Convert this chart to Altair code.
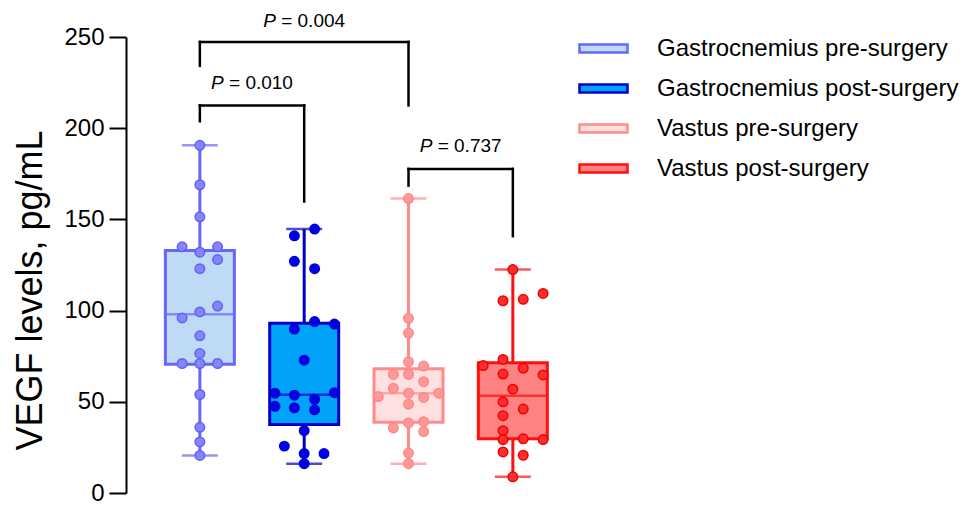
import altair as alt
import pandas as pd

FONT = "Liberation Sans, Arial, Helvetica, sans-serif"

groups = ["Gastrocnemius pre-surgery", "Gastrocnemius post-surgery",
          "Vastus pre-surgery", "Vastus post-surgery"]
group_pos = [1, 2, 3, 4]

# box fills / outlines / point colours
box_fill = ["#BFDAF5", "#00A2FA", "#FFE0E0", "#FF8282"]
box_stroke = ["#6666FF", "#0000C8", "#FF8C8C", "#FF1010"]
pt_fill = ["#8585FA", "#0000E6", "#FF9A9A", "#FF2E2E"]
pt_stroke = ["#6060F5", "#0000D0", "#FF8585", "#F00000"]

# box statistics (min, q1, median, q3, max)
st_min = [20.6, 16.1, 16.1, 8.9]
st_q1 = [70.6, 37.5, 38.8, 29.7]
st_med = [98.0, 53.8, 54.7, 53.3]
st_q3 = [133.0, 93.0, 68.1, 71.4]
st_max = [190.6, 144.7, 161.4, 122.5]

# individual values and their swarm offsets (in group units)
vals1 = [190.6, 169, 151.4, 135, 132, 135, 128, 123, 102.5, 99.3, 96, 86.2, 76.5,
         71, 71, 71, 54, 36, 28, 20.6]
offs1 = [0, 0, 0, -0.17, 0, 0.17, 0.17, 0, 0.17, 0, -0.17, 0, 0,
         -0.17, 0, 0.17, 0, 0, 0, 0]
vals2 = [144.7, 141, 127, 123, 94, 92.6, 89.9, 72.8, 54.7, 55, 53.6, 51.4, 47.5,
         46.7, 45.6, 34.2, 25.7, 21.6, 21.6, 16.1]
offs2 = [0.1, -0.094, -0.094, 0.1, 0.1, 0.29, -0.094, 0, -0.28, 0.29, -0.094, 0.1, -0.28,
         -0.094, 0.1, 0, -0.19, 0, 0.19, 0]
vals3 = [161.4, 95.8, 87.7, 71.9, 69.6, 65, 65, 61, 57.4, 54.7, 52.9, 52.4, 54.7,
         48.7, 38.4, 39.1, 35.7, 33.7, 21.9, 16.1]
offs3 = [0, 0, 0, 0, 0.145, -0.145, 0, 0.145, -0.145, 0, -0.29, 0.145, 0.29,
         0, 0, 0.145, -0.145, 0.145, 0, 0]
vals4 = [122.5, 109.4, 105.4, 106.2, 73.2, 69.9, 68.5, 65.2, 64.7, 56.9, 50, 46, 42.4,
         34.2, 29.2, 29.7, 29.3, 22.5, 20.7, 8.9]
offs4 = [0, 0.29, -0.094, 0.1, -0.094, -0.284, 0.1, -0.094, 0.29, 0, -0.094, 0.1, -0.094,
         -0.094, -0.094, 0.1, 0.29, -0.094, 0.1, 0]

# significance brackets
br_left = [1, 1, 3]
br_right = [3, 2, 4]
br_top = [247.3, 212.5, 177.7]
br_left_bottom = [234.2, 203.8, 168.5]
br_right_bottom = [212.5, 159.8, 140.8]
br_text_y = [258.8, 224.7, 190.0]
br_text = ["= 0.004", "= 0.010", "= 0.737"]

# ---------- tables ----------
stats = pd.DataFrame({
    "group": groups, "pos": group_pos, "min": st_min, "q1": st_q1, "med": st_med,
    "q3": st_q3, "max": st_max, "scol": box_stroke,
})

rows = []
for g, p, vs, os_, pf, ps in zip(groups, group_pos, [vals1, vals2, vals3, vals4],
                                 [offs1, offs2, offs3, offs4], pt_fill, pt_stroke):
    for v, o in zip(vs, os_):
        rows.append({"group": g, "x": p + o, "value": v, "pf": pf, "ps": ps})
points = pd.DataFrame(rows)

segs = []
for l, r, t, lb, rb in zip(br_left, br_right, br_top, br_left_bottom, br_right_bottom):
    segs.append({"x": l, "x2": r, "y": t, "y2": t})
    segs.append({"x": l, "x2": l, "y": t, "y2": lb})
    segs.append({"x": r, "x2": r, "y": t, "y2": rb})
segs = pd.DataFrame(segs)

labels = pd.DataFrame({
    "x": [(l + r) / 2 for l, r in zip(br_left, br_right)],
    "y": br_text_y, "txt": br_text,
})

xscale = alt.Scale(domain=[0.34, 4.5], nice=False, zero=False)
yscale = alt.Scale(domain=[0, 250], nice=False)

X = alt.X("pos:Q", scale=xscale, axis=None)
Y_AX = alt.Axis(values=[0, 50, 100, 150, 200, 250], title="VEGF levels, pg/mL",
                grid=False, domainColor="black", domainWidth=2, tickColor="black",
                tickWidth=2, tickSize=17, labelFontSize=24, labelColor="black",
                labelPadding=5, labelFont=FONT, titleFont=FONT, titleFontSize=36,
                titleFontWeight="normal", titleColor="black", titlePadding=14,
                titleY=253)

base = alt.Chart(stats)

whisker = base.mark_rule(strokeWidth=3).encode(
    x=X, y=alt.Y("min:Q", scale=yscale, axis=Y_AX), y2="max:Q",
    stroke=alt.Stroke("scol:N", scale=None),
)

leg = alt.Legend(title=None, orient="none", legendX=464, legendY=-2,
                 symbolType="M-2,-0.34H2V0.34H-2Z", symbolSize=576,
                 symbolStrokeWidth=2.5, labelFontSize=24, labelFont=FONT,
                 labelColor="black", labelLimit=500, labelOffset=40, rowPadding=14)

box = base.mark_bar(size=69, strokeWidth=3).encode(
    x=X, y=alt.Y("q1:Q", scale=yscale), y2="q3:Q",
    fill=alt.Fill("group:N", scale=alt.Scale(domain=groups, range=box_fill), legend=leg,
                  sort=groups),
    stroke=alt.Stroke("group:N", scale=alt.Scale(domain=groups, range=box_stroke),
                      legend=leg, sort=groups),
)

median = base.mark_tick(orient="horizontal", size=69, thickness=2.5).encode(
    x=X, y=alt.Y("med:Q", scale=yscale), color=alt.Color("scol:N", scale=None),
)
cap_top = base.mark_tick(orient="horizontal", size=36, thickness=2.5).encode(
    x=X, y=alt.Y("max:Q", scale=yscale), color=alt.Color("scol:N", scale=None),
)
cap_bot = base.mark_tick(orient="horizontal", size=36, thickness=2.5).encode(
    x=X, y=alt.Y("min:Q", scale=yscale), color=alt.Color("scol:N", scale=None),
)

dots = alt.Chart(points).mark_point(filled=True, shape="circle", size=90, opacity=1,
                                    strokeWidth=1.5).encode(
    x=alt.X("x:Q", scale=xscale, axis=None),
    y=alt.Y("value:Q", scale=yscale),
    fill=alt.Fill("pf:N", scale=None),
    stroke=alt.Stroke("ps:N", scale=None),
)

brackets = alt.Chart(segs).mark_rule(strokeWidth=2.5, color="black", strokeCap="square").encode(
    x=alt.X("x:Q", scale=xscale, axis=None), x2="x2:Q",
    y=alt.Y("y:Q", scale=yscale), y2="y2:Q",
)

ptxt = alt.Chart(labels).mark_text(text="P", fontStyle="italic", fontSize=19, font=FONT,
                                   align="left", baseline="middle", dx=-41,
                                   color="black").encode(
    x=alt.X("x:Q", scale=xscale, axis=None), y=alt.Y("y:Q", scale=yscale),
)
vtxt = alt.Chart(labels).mark_text(fontSize=19, font=FONT, align="left",
                                   baseline="middle", dx=-23, color="black").encode(
    x=alt.X("x:Q", scale=xscale, axis=None), y=alt.Y("y:Q", scale=yscale), text="txt:N",
)

chart = alt.layer(whisker, box, median, cap_top, cap_bot, dots, brackets, ptxt, vtxt).properties(
    width=444, height=456,
    background="white",
    autosize=alt.AutoSizeParams(type="none"),
    padding={"left": 118, "top": 29, "right": 390, "bottom": 13},
).configure_view(stroke=None)

chart.save("out.html", embed_options={"renderer": "svg", "actions": False})
